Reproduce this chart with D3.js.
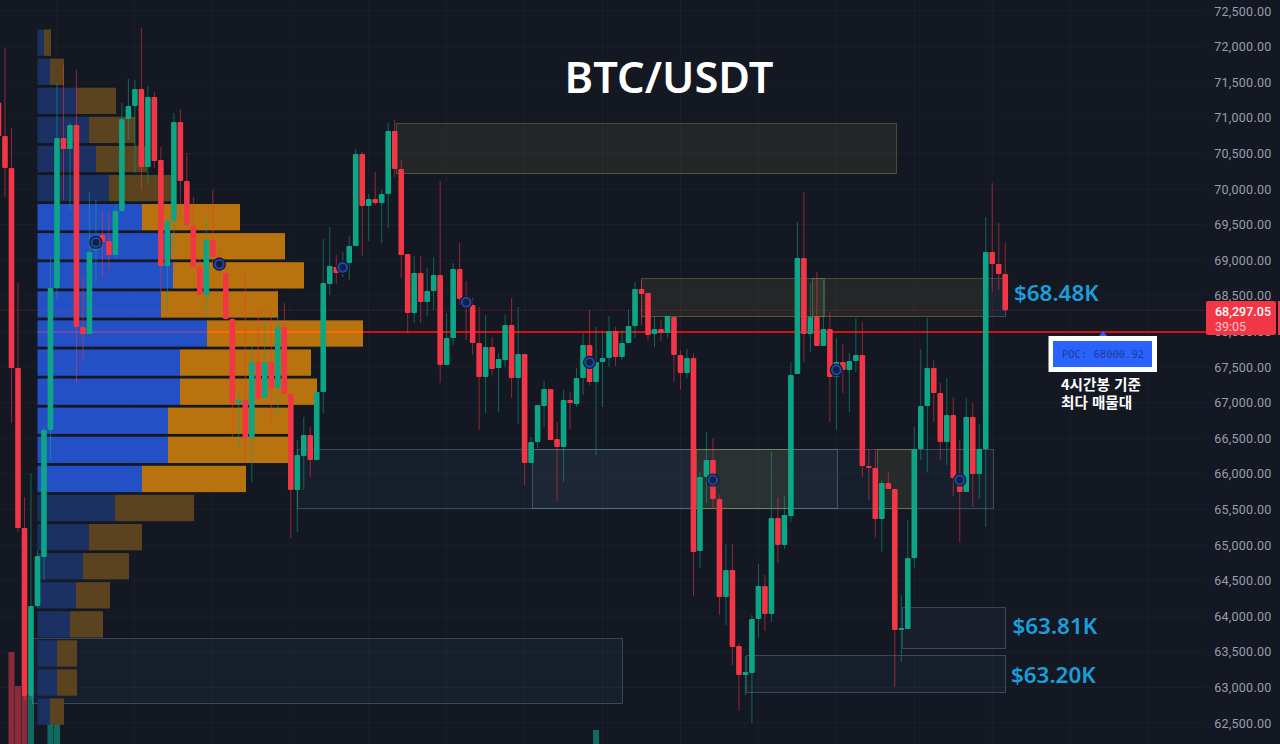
<!DOCTYPE html>
<html lang="ko">
<head>
<meta charset="utf-8">
<title>BTC/USDT</title>
<script src="https://cdn.jsdelivr.net/npm/d3@7"></script>
<style>
  html, body { margin: 0; padding: 0; background: #141823; overflow: hidden; }
  svg { display: block; }
  .price-axis text { fill: #9a9ea8; font: 12.5px Roboto, sans-serif; letter-spacing: .25px; }
  .callout { fill: #1a9fdc; font: 600 22.4px "Noto Sans", sans-serif; }
  .note { fill: #fff; font: 600 14.6px "Noto Sans CJK KR", sans-serif; }
</style>
</head>
<body>
<svg id="chart" width="1280" height="744"></svg>
<script>
// 4h candles, the first one is cut off by the left edge of the picture
const opens = [
  71210,70745,70295,67486,65239,62880,64144,64832,66615,68610,
  70717,70562,70899,68062,67964,69143,69354,69270,69073,69691,
  70984,71166,71404,70309,71292,70407,68919,69551,70941,70112,
  69481,68905,68511,69284,69045,68820,68174,66995,67037,66503,
  67570,67065,67570,67205,68062,67121,65773,66250,66545,66194,
  67149,68666,68905,68862,68960,69200,70492,69761,69860,69804,
  69930,70815,70281,69087,68259,68820,68413,68568,68792,67528,
  67907,68876,68455,68371,67837,67360,67781,67486,67598,68090,
  67346,67683,66152,66447,66952,67191,66489,66376,67037,66980,
  67346,67809,67290,67570,67627,68006,67641,67837,68076,68596,
  68540,67964,68034,67978,68203,67669,67416,67627,64916,65955,
  66194,65646,64270,64649,63582,63175,63203,63961,64424,64031,
  65379,65000,65407,67402,69031,67964,68203,67795,68034,67360,
  67570,67458,67584,67669,66110,66082,65365,65871,65787,63806,
  63820,64818,66348,66952,67486,67135,66447,66826,65941,65745,
  66798,65997,66348,69115,68947,68806
];
const closes = [
  70745,70295,67486,65239,62880,64144,64846,66615,68610,70717,
  70562,70899,68062,67964,69115,69284,69256,69073,69691,70984,
  71166,71404,70309,71292,70393,68919,69551,70941,70112,69495,
  68905,68511,69284,69045,68933,68174,66995,67037,66503,67570,
  67065,67570,67205,68062,67121,65773,66264,66545,66194,67149,
  68680,68919,68820,68960,69200,70492,69761,69860,69804,69930,
  70815,70281,69073,68259,68820,68413,68568,68792,67528,67907,
  68876,68455,68385,67837,67360,67781,67472,67612,68090,67346,
  67683,66152,66447,66966,67191,66475,66376,67037,66995,67346,
  67809,67290,67570,67627,68006,67641,67837,68076,68596,68526,
  67950,68034,67978,68217,67669,67416,67627,64902,65955,66194,
  65646,64270,64649,63568,63175,63217,63961,64424,64031,65379,
  65000,65421,67388,69031,67964,68203,67795,68034,67360,67570,
  67458,67584,67669,66110,66082,65365,65871,65787,63806,63834,
  64818,66348,66952,67486,67135,66447,66826,65941,65745,66798,
  65997,66348,69115,68947,68806,68297
];
const highs = [
  71530,71980,70857,68680,65675,66012,64930,66657,69045,71489,
  71742,70927,71671,68764,69958,69846,69705,69677,69775,71208,
  71545,71531,72262,71446,71362,70590,69593,71068,71124,70506,
  69888,69073,69565,69986,69143,68960,68230,67135,68820,67809,
  68343,68118,68301,68259,68399,67121,66475,66798,66657,67205,
  69298,69467,69073,69115,69340,70562,70520,69930,70239,69986,
  70927,70969,70407,69087,69059,69059,68890,69045,70112,68259,
  68960,69242,68708,68469,68343,68230,67921,67697,68230,68469,
  68343,67683,66517,66966,67304,67191,66728,67177,67149,67486,
  67978,68301,68062,68006,68217,68062,68020,68301,68694,68722,
  68540,68203,68160,68217,68203,67739,67753,67697,66026,66587,
  66503,65702,65014,65014,63624,63441,64017,64733,64579,66306,
  65660,65688,67570,69537,69958,68680,68834,68722,68273,67907,
  67823,67697,68188,68132,66348,66348,65913,66026,65787,64298,
  65351,66657,67753,68188,67598,67276,67346,67079,66475,67065,
  66995,66700,69607,70084,69523,69242
];
const lows = [
  70700,69888,66714,65183,62823,62823,64116,64509,66194,68441,
  69846,69705,67276,67570,67964,68680,68750,68862,69030,69691,
  70688,70225,69986,70084,70295,68540,68301,69101,69565,69467,
  68905,68511,68203,68960,68792,68160,66517,66362,66152,65885,
  67000,67065,66685,66854,67121,65099,65183,65773,65955,66194,
  66854,68511,68666,68764,68722,69200,69059,69270,69775,69242,
  69452,70168,68750,67978,68118,68118,68217,68301,67276,67528,
  67809,68371,67879,67669,66615,66854,67388,66868,67500,67065,
  66700,65843,66152,66362,66657,66475,65618,65885,66629,66938,
  67107,67248,66264,66938,67500,67514,67598,67837,67907,68090,
  67879,67781,67865,67907,67290,67177,67346,64284,64678,65590,
  65520,64017,63876,63315,62669,62894,62500,63694,63792,63919,
  64748,64944,65323,67402,67570,67711,67795,67795,66728,66615,
  67135,66868,67430,65955,65632,65099,64902,65787,63006,63357,
  63820,64678,66194,66026,66728,66194,66124,65688,65042,65745,
  65534,65646,65253,68554,68582,68297
];

// volume profile rows, top to bottom (row mid price, buy and sell volume)
const profileLevels = [
  72035,71630,71225,70815,70410,70005,69595,69190,68785,68380,
  67970,67565,67160,66755,66345,65940,65535,65130,64720,64315,
  63910,63505,63100,62680
];
const profileBuy = [
  6.5,12.5,39.5,51.5,58.5,71.5,104.5,133.5,135.5,123.5,169.5,142.5,
  142.5,130.5,130.5,104.5,77.5,51.5,45.5,38.5,32.5,19.5,19.5,12.5
];
const profileSell = [
  7,14,39,46,51,62,98,114,131,117,156,131,
  137,120,120,104,79,53,46,34,33,20,20,14
];
const valueAreaFirst = 6, valueAreaLast = 15, pocRow = 10;

// supply and demand zones: candle index from/to, price top/bottom
const yellowZones = [
  { from: 60.35, to: 137.2, top: 70913, bottom: 70211 },
  { from: 98.07, to: 126.1, top: 68736, bottom: 68203 },
  { from: 124.25, to: 151.04, top: 68736, bottom: 68203 }
];
const slateZones = [
  { from: 151.04, to: 154.1, top: 68736, bottom: 68203, a: 0.08 },
  { from: 44.96, to: 152.27, top: 66348, bottom: 65506, a: 0.05 },
  { from: 81.14, to: 128.25, top: 66348, bottom: 65506, a: 0.06 },
  { from: 138.26, to: 154.1, top: 64116, bottom: 63540, a: 0.04 },
  { from: 114.24, to: 154.1, top: 63455, bottom: 62922, a: 0.05 },
  { from: 4.31, to: 95, top: 63680, bottom: 62767, a: 0.05 }
];
const zonesOverSlate = [
  { from: 106.54, to: 120.86, top: 66348, bottom: 65506 },
  { from: 134.26, to: 139.8, top: 66348, bottom: 65506 }
];

// ring markers
const markerIndex = [14, 33, 52, 71, 90, 109, 128, 147];
const markerPrice = [69250, 68945, 68900, 68410, 67565, 65913, 67458, 65913];

// the few volume bars that reach the picture
const volumeIndex = [1, 2, 3, 4, 7, 8, 91];
const volumeValue = [92, 58, 48, 48, 27, 24, 14];
const volumeUp = [false, false, false, true, true, true, true];

const priceTicks = [
  72500,72000,71500,71000,70500,70000,69500,69000,68500,68000,67500,
  67000,66500,66000,65500,65000,64500,64000,63500,63000,62500
];
const gridIndex = [8,20,32,44,56,68,80,92,104,116,128,140,152,164,176];

const pocPrice = 68000.92;
const lastPrice = 68297.05;

const width = 1280, height = 744, axisLeft = 1206;
const red = "#f23645", green = "#0ca585";

const svg = d3.select("#chart");
svg.append("rect").attr("width", width).attr("height", height).attr("fill", "#141823");

// scales
const xScale = d3.scaleLinear().domain([0, 100]).range([5, 654.5]);
const yScale = d3.scaleLinear().domain([62500, 72500]).range([723, 11]);
const volScale = d3.scaleLinear().domain([0, 326]).range([37.5, 363.5]);
const barScale = d3.scaleLinear().domain([0, 92]).range([744, 652]);
const rowScale = d3.scaleBand().domain(profileLevels)
  .range([yScale(72240), yScale(62475)]).paddingInner(0.095);

// grid
const grid = svg.append("g").attr("stroke", "#fff").attr("stroke-opacity", 0.03);
grid.selectAll("line.h").data(priceTicks).join("line").attr("class", "h")
  .attr("x1", 0).attr("x2", axisLeft)
  .attr("y1", d => yScale(d)).attr("y2", d => yScale(d));
grid.selectAll("line.v").data(gridIndex).join("line").attr("class", "v")
  .attr("y1", 0).attr("y2", height)
  .attr("x1", d => xScale(d)).attr("x2", d => xScale(d));

// volume bars
svg.append("g").selectAll("rect").data(volumeIndex).join("rect")
  .attr("x", d => xScale(d) - 3)
  .attr("width", 6)
  .attr("y", (d, i) => barScale(volumeValue[i]))
  .attr("height", (d, i) => height - barScale(volumeValue[i]))
  .attr("fill", (d, i) => volumeUp[i] ? "#0f6b60" : "#8a2a3a");

// zones
const drawZones = (zones, fill, stroke) => {
  svg.append("g").attr("shape-rendering", "crispEdges")
    .selectAll("rect").data(zones).join("rect")
    .attr("x", d => xScale(d.from))
    .attr("width", d => xScale(d.to) - xScale(d.from))
    .attr("y", d => yScale(d.top))
    .attr("height", d => yScale(d.bottom) - yScale(d.top))
    .attr("fill", d => d.a ? `rgba(120,170,220,${d.a})` : fill)
    .attr("stroke", stroke);
};
drawZones(slateZones, null, "rgba(130,165,195,0.32)");
drawZones(yellowZones, "rgba(135,130,70,0.14)", "rgba(150,150,75,0.42)");
drawZones(zonesOverSlate, "rgba(120,105,40,0.15)", "rgba(150,150,75,0.45)");

// volume profile
const profile = svg.append("g");
const isBright = i => i >= valueAreaFirst && i <= valueAreaLast;
profile.selectAll("rect.buy").data(profileLevels).join("rect").attr("class", "buy")
  .attr("x", volScale(0))
  .attr("y", d => rowScale(d))
  .attr("width", (d, i) => volScale(profileBuy[i]) - volScale(0))
  .attr("height", rowScale.bandwidth())
  .attr("fill", (d, i) => isBright(i) ? "#2450c6" : "#1c3163");
profile.selectAll("rect.sell").data(profileLevels).join("rect").attr("class", "sell")
  .attr("x", (d, i) => volScale(profileBuy[i]))
  .attr("y", d => rowScale(d))
  .attr("width", (d, i) => volScale(profileSell[i]) - volScale(0))
  .attr("height", rowScale.bandwidth())
  .attr("fill", (d, i) => isBright(i) ? "#b8730e" : "#5b431f");

// last price and POC lines
svg.append("line").attr("x1", 0).attr("x2", axisLeft)
  .attr("y1", yScale(lastPrice)).attr("y2", yScale(lastPrice))
  .attr("stroke", red).attr("stroke-opacity", 0.35).attr("stroke-dasharray", "1 1");
const pocY = Math.round(yScale(pocPrice)) + 1;
const pocEnd = volScale(profileBuy[pocRow] + profileSell[pocRow]);
const pocSplit = volScale(profileBuy[pocRow]);
svg.append("line").attr("x1", volScale(0)).attr("x2", pocSplit)
  .attr("y1", pocY).attr("y2", pocY)
  .attr("stroke", "#7a4fa8").attr("stroke-width", 1.5);
svg.append("line").attr("x1", pocSplit + 1).attr("x2", pocEnd)
  .attr("y1", pocY).attr("y2", pocY)
  .attr("stroke", "#ff6d00").attr("stroke-width", 2);
svg.append("line").attr("x1", pocEnd).attr("x2", axisLeft)
  .attr("y1", pocY).attr("y2", pocY)
  .attr("stroke", "#d9100f").attr("stroke-width", 2);

// candles, index starts at -1 because of the cut off one
const candles = svg.append("g");
candles.selectAll("line").data(opens).join("line")
  .attr("x1", (d, i) => xScale(i - 1)).attr("x2", (d, i) => xScale(i - 1))
  .attr("y1", (d, i) => yScale(highs[i])).attr("y2", (d, i) => yScale(lows[i]))
  .attr("stroke", (d, i) => closes[i] >= d ? green : red)
  .attr("stroke-opacity", 0.55);
candles.selectAll("rect").data(opens).join("rect")
  .attr("x", (d, i) => xScale(i - 1) - 2.8)
  .attr("width", 5.6)
  .attr("rx", 1)
  .attr("y", (d, i) => yScale(Math.max(d, closes[i])))
  .attr("height", (d, i) => Math.max(1.5, Math.abs(yScale(d) - yScale(closes[i]))))
  .attr("fill", (d, i) => closes[i] >= d ? green : red);

// ring markers, the dark halo shows where they sit on a body or a row
const rings = svg.append("g");
rings.selectAll("circle.halo").data(markerIndex).join("circle").attr("class", "halo")
  .attr("cx", d => xScale(d))
  .attr("cy", (d, i) => yScale(markerPrice[i]))
  .attr("r", 6.6)
  .attr("fill", "#141823");
rings.selectAll("circle.ring").data(markerIndex).join("circle").attr("class", "ring")
  .attr("cx", d => xScale(d))
  .attr("cy", (d, i) => yScale(markerPrice[i]))
  .attr("r", 4.4)
  .attr("fill", "#14203f")
  .attr("stroke", "#1f47b4")
  .attr("stroke-width", 2);

// title and callouts
svg.append("text").attr("x", 669).attr("y", 93).attr("text-anchor", "middle")
  .attr("fill", "#fff")
  .style("font", '600 43.4px "Noto Sans", sans-serif').text("BTC/USDT");
svg.append("text").attr("class", "callout").attr("x", 1014).attr("y", 301).text("$68.48K");
svg.append("text").attr("class", "callout").attr("x", 1012.5).attr("y", 634).text("$63.81K");
svg.append("text").attr("class", "callout").attr("x", 1011).attr("y", 683).text("$63.20K");

// POC label
svg.append("path").attr("d", `M1099,${pocY + 4} L1103,${pocY - 1} L1107,${pocY + 4} Z`).attr("fill", "#2962ff");
svg.append("rect").attr("x", 1048.5).attr("y", 336).attr("width", 108.5).attr("height", 36).attr("fill", "#fff");
svg.append("rect").attr("x", 1053).attr("y", 341).attr("width", 99).attr("height", 26).attr("fill", "#2962ff");
svg.append("text").attr("x", 1103).attr("y", 358).attr("text-anchor", "middle")
  .attr("fill", "#1f3c96")
  .style("font", '10.5px "DejaVu Sans Mono", monospace').text(`POC: ${pocPrice}`);
svg.append("text").attr("class", "note").attr("x", 1061).attr("y", 389.5).text("4시간봉 기준");
svg.append("text").attr("class", "note").attr("x", 1061).attr("y", 407.5).text("최다 매물대");

// price axis
const axis = svg.append("g").attr("class", "price-axis").attr("transform", `translate(${axisLeft},0)`)
  .call(d3.axisRight(yScale).tickValues(priceTicks).tickSize(0).tickFormat(d3.format(",.2f")));
axis.select(".domain").remove();
axis.selectAll("text").attr("x", 65.5).attr("text-anchor", "end");

// last price tag
svg.append("rect").attr("x", axisLeft).attr("y", 301).attr("width", 70).attr("height", 34).attr("rx", 2).attr("fill", red);
svg.append("rect").attr("x", 1278).attr("y", 301).attr("width", 2).attr("height", 34).attr("fill", red);
svg.append("text").attr("x", 1271).attr("y", 316).attr("text-anchor", "end").attr("fill", "#fff")
  .style("font", "500 12.5px Roboto, sans-serif").text(d3.format(",.2f")(lastPrice));
svg.append("text").attr("x", 1215).attr("y", 330.5).attr("fill", "#ffc4c9")
  .style("font", "12.5px Roboto, sans-serif").text("39:05");
</script>
</body>
</html>
